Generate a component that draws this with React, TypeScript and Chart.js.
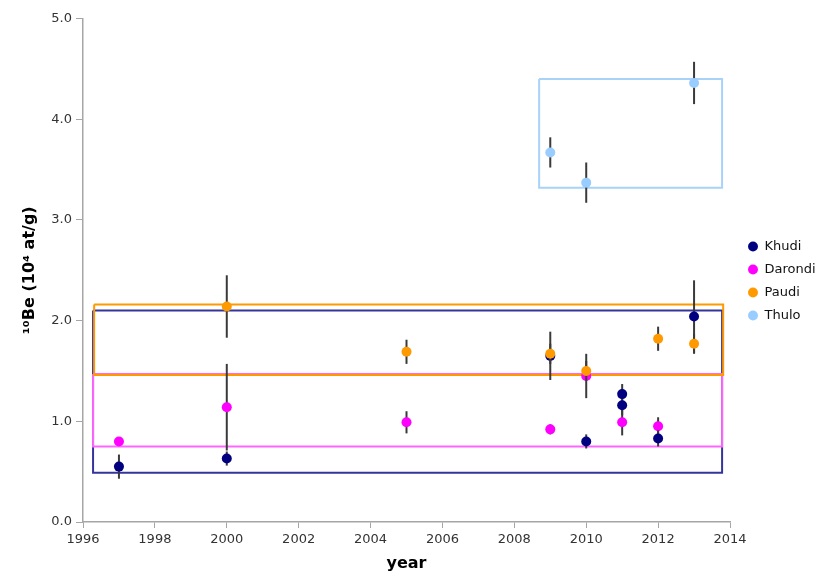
import React, { useEffect, useRef } from "react";
import { Chart, registerables } from "chart.js";

Chart.register(...registerables);

// ---- data ----
const khudiYears = [1997, 2000, 2009, 2010, 2011, 2011, 2012, 2013];
const khudiValues = [0.55, 0.63, 1.65, 0.8, 1.27, 1.16, 0.83, 2.04];
const khudiErrors = [0.12, 0.07, 0.24, 0.07, 0.1, 0.1, 0.08, 0.36];

const darondiYears = [1997, 2000, 2005, 2009, 2010, 2011, 2012];
const darondiValues = [0.8, 1.14, 0.99, 0.92, 1.45, 0.99, 0.95];
const darondiErrors = [0.03, 0.43, 0.11, 0.05, 0.22, 0.13, 0.09];

const paudiYears = [2000, 2005, 2009, 2010, 2012, 2013];
const paudiValues = [2.14, 1.69, 1.67, 1.5, 1.82, 1.77];
const paudiErrors = [0.31, 0.12, 0.1, 0.1, 0.12, 0.1];

const thuloYears = [2009, 2010, 2013];
const thuloValues = [3.67, 3.37, 4.36];
const thuloErrors = [0.15, 0.2, 0.21];

// range boxes (Khudi, Darondi, Paudi, Thulo)
const boxYearFrom = [1996.28, 1996.28, 1996.31, 2008.69];
const boxYearTo = [2013.78, 2013.78, 2013.81, 2013.78];
const boxLow = [0.49, 0.75, 1.46, 3.32];
const boxHigh = [2.1, 1.47, 2.16, 4.4];

const xTickMin = 1996;
const xTickMax = 2014;
const yTickMin = 0;
const yTickMax = 5;

const FONT = "'DejaVu Sans', Verdana, sans-serif";

const seriesColors = ["#000080", "#ff00ff", "#ff9900", "#99ccff"];
const boxColors = ["#34349a", "#ff66ff", "#ff9900", "#a8d2f8"];
const boxOrders = [14, 13, 12, 11];

function toPoints(xs: number[], ys: number[]) {
  return xs.map((x, i) => ({ x, y: ys[i] }));
}

function boxPoints(i: number) {
  return [
    { x: boxYearFrom[i], y: boxHigh[i] },
    { x: boxYearTo[i], y: boxHigh[i] },
    { x: boxYearTo[i], y: boxLow[i] },
    { x: boxYearFrom[i], y: boxLow[i] },
    { x: boxYearFrom[i], y: boxHigh[i] },
  ];
}

const errorBarPlugin = {
  id: "errorBars",
  beforeDatasetDraw(chart: any, args: any) {
    const ds = chart.data.datasets[args.index];
    if (!ds || !ds.errors) return;
    const { ctx } = chart;
    const xs = chart.scales.x;
    const ys = chart.scales.y;
    ctx.save();
    ctx.strokeStyle = "#3a3a3a";
    ctx.lineWidth = 2;
    ds.data.forEach((p: any, i: number) => {
      const e = ds.errors[i];
      const px = xs.getPixelForValue(p.x);
      ctx.beginPath();
      ctx.moveTo(px, ys.getPixelForValue(p.y - e));
      ctx.lineTo(px, ys.getPixelForValue(p.y + e));
      ctx.stroke();
    });
    ctx.restore();
  },
};

const legendShiftPlugin = {
  id: "legendShift",
  afterLayout(chart: any) {
    const l = chart.legend;
    if (!l) return;
    l.left += 8;
    l.right += 8;
    l.top -= 12;
    l.bottom -= 12;
  },
};

export default function App() {
  const ref = useRef<HTMLCanvasElement | null>(null);

  useEffect(() => {
    if (!ref.current) return;
    const series = [
      { label: "Khudi", xs: khudiYears, ys: khudiValues, err: khudiErrors, order: 1 },
      { label: "Darondi", xs: darondiYears, ys: darondiValues, err: darondiErrors, order: 2 },
      { label: "Paudi", xs: paudiYears, ys: paudiValues, err: paudiErrors, order: 0 },
      { label: "Thulo", xs: thuloYears, ys: thuloValues, err: thuloErrors, order: 1 },
    ];
    const datasets: any[] = series.map((s, i) => ({
      label: s.label,
      data: toPoints(s.xs, s.ys),
      errors: s.err,
      order: s.order,
      backgroundColor: seriesColors[i],
      borderColor: seriesColors[i],
      pointRadius: 5,
      pointBorderWidth: 0,
      pointStyle: "circle",
      showLine: false,
    }));
    for (let i = 0; i < 4; i++) {
      datasets.push({
        label: "box" + i,
        data: boxPoints(i),
        order: boxOrders[i],
        showLine: true,
        borderColor: boxColors[i],
        backgroundColor: boxColors[i],
        borderWidth: 2,
        pointRadius: 0,
        fill: false,
        tension: 0,
      });
    }

    const chart = new Chart(ref.current, {
      type: "scatter",
      data: { datasets },
      plugins: [errorBarPlugin, legendShiftPlugin],
      options: {
        responsive: false,
        animation: false,
        events: [],
        layout: { padding: { top: 6, left: 0, right: 0, bottom: 0 } },
        plugins: {
          tooltip: { enabled: false },
          legend: {
            position: "right",
            maxWidth: 86,
            labels: {
              usePointStyle: true,
              pointStyle: "circle",
              boxWidth: 10,
              boxHeight: 7,
              padding: 10,
              color: "#111",
              font: { family: FONT, size: 13 },
              filter: (item: any) => item.datasetIndex < 4,
              sort: (a: any, b: any) => a.datasetIndex - b.datasetIndex,
            },
          },
        },
        scales: {
          x: {
            type: "linear",
            min: xTickMin,
            max: xTickMax,
            afterFit: (s: any) => {
              s.height = 50;
            },
            ticks: {
              stepSize: 2,
              padding: 4,
              color: "#333",
              font: { family: FONT, size: 13 },
              callback: (v: any) => String(v),
            },
            grid: {
              display: true,
              drawOnChartArea: false,
              drawTicks: true,
              tickLength: 6,
              color: "#a6a6a6",
            },
            border: { display: true, color: "#a6a6a6", width: 1.5 },
            title: {
              display: true,
              text: "year",
              color: "#000",
              font: { family: FONT, size: 16, weight: "bold", lineHeight: 1 },
              padding: { top: 0, bottom: 0 },
            },
          },
          y: {
            type: "linear",
            min: yTickMin,
            max: yTickMax,
            afterFit: (s: any) => {
              s.width = 75;
            },
            ticks: {
              stepSize: 1,
              padding: 4,
              color: "#333",
              font: { family: FONT, size: 13, lineHeight: 1 },
              callback: (v: any) => Number(v).toFixed(1),
            },
            grid: {
              display: true,
              drawOnChartArea: false,
              drawTicks: true,
              tickLength: 7,
              color: "#a6a6a6",
            },
            border: { display: true, color: "#a6a6a6", width: 1.5 },
            title: {
              display: true,
              text: "¹⁰Be (10⁴ at/g)",
              color: "#000",
              font: { family: FONT, size: 16, weight: "bold", lineHeight: 1 },
              padding: { top: 14, bottom: 0 },
            },
          },
        },
      } as any,
    });
    return () => chart.destroy();
  }, []);

  return (
    <div style={{ height: 564 }}>
      <canvas ref={ref} width={808} height={564} style={{ display: "block" }} />
    </div>
  );
}
